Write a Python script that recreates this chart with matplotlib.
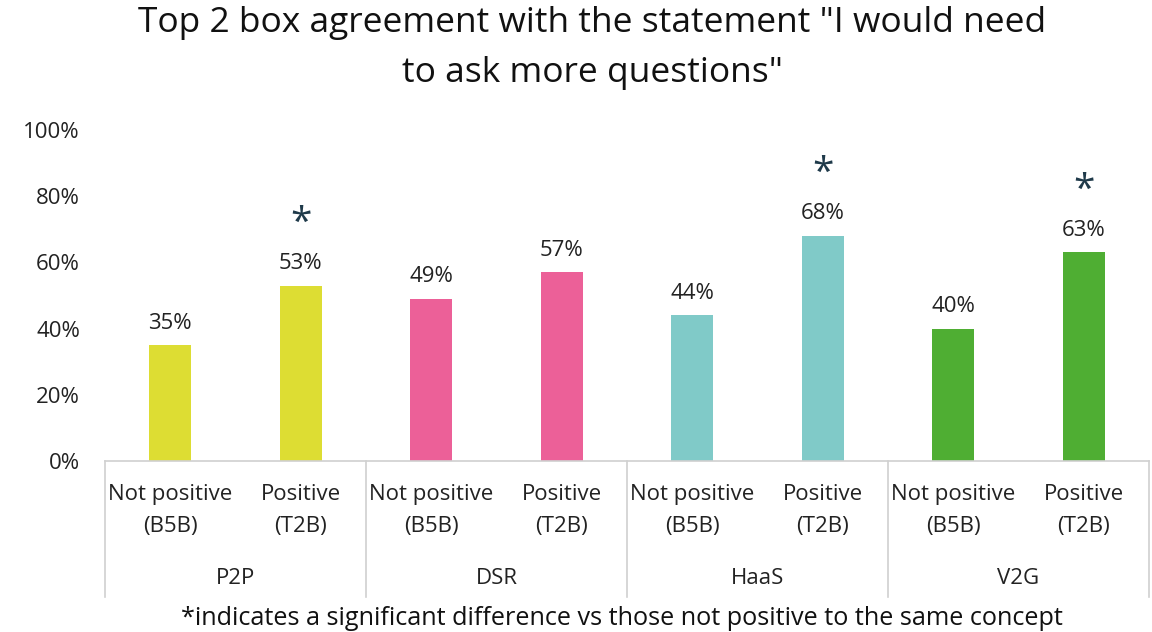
"""Top 2 box agreement bar chart, grouped by concept with significance markers."""
import matplotlib
matplotlib.use("Agg")
import matplotlib.pyplot as plt
import numpy as np

plt.rcParams["font.family"] = ["Open Sans", "DejaVu Sans"]

concepts = ["P2P", "DSR", "HaaS", "V2G"]
segments = ["Not positive\n(B5B)", "Positive\n(T2B)"]
values = [35, 53, 49, 57, 44, 68, 40, 63]
significant = [False, True, False, False, False, True, False, True]
concept_colors = ["#DDDD33", "#EC6098", "#80CAC8", "#4FAE33"]

fig = plt.figure(figsize=(11.52, 6.32), dpi=100)
ax = fig.add_axes([0.0911, 0.2706, 0.9063, 0.5237])

x = np.arange(len(values))
colors = [c for c in concept_colors for _ in segments]
ax.bar(x, values, width=0.32, color=colors, zorder=2)

for xi, v, sig in zip(x, values, significant):
    ax.text(xi, v + 3.5, f"{v}%", ha="center", va="bottom", fontsize=16, color="#222222")
    if sig:
        ax.text(xi, v + 13, "*", ha="center", va="bottom", fontsize=28, color="#1F3A4A")

ax.set_xlim(-0.5, len(values) - 0.5)
ax.set_ylim(0, 100)
ax.set_yticks(np.arange(0, 101, 20))
ax.set_yticklabels([f"{t}%" for t in range(0, 101, 20)], fontsize=16, color="#222222")
ax.tick_params(axis="y", length=0, pad=18)
ax.set_xticks([])
for side in ["top", "right", "left"]:
    ax.spines[side].set_visible(False)
ax.spines["bottom"].set_color("#D0D0D0")
ax.spines["bottom"].set_linewidth(1.2)

# segment and concept labels below the axis
trans = ax.get_xaxis_transform()
for xi in x:
    ax.text(xi, -0.07, segments[xi % 2], transform=trans, ha="center", va="top",
            fontsize=16, color="#222222", linespacing=1.7)
for gi, name in enumerate(concepts):
    ax.text(gi * 2 + 0.5, -0.355, name, transform=trans, ha="center", va="center",
            fontsize=16, color="#222222")
for b in np.arange(-0.5, len(values), 2):
    ax.plot([b, b], [0, -0.41], transform=trans, color="#D0D0D0", lw=1.2, clip_on=False)

fig.text(0.514, 0.99, 'Top 2 box agreement with the statement "I would need\nto ask more questions"',
         ha="center", va="top", fontsize=25.5, color="#111111", linespacing=1.6)
fig.text(0.54, 0.022, "*indicates a significant difference vs those not positive to the same concept",
         ha="center", va="center", fontsize=18.2, color="#111111")

plt.savefig("out.png", dpi=100)
plt.close()
